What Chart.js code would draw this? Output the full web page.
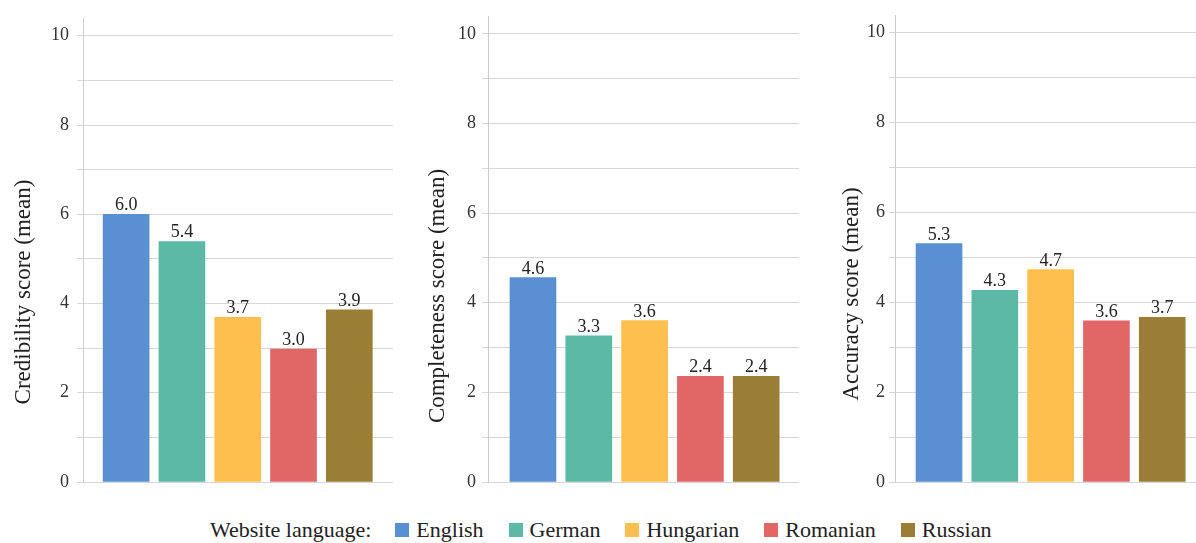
<!DOCTYPE html>
<html>
<head>
<meta charset="utf-8">
<script src="https://cdn.jsdelivr.net/npm/chart.js@4.4.1/dist/chart.umd.min.js"></script>
<style>
html, body { margin:0; padding:0; background:#fff; }
body { width:1196px; height:543px; overflow:hidden; position:relative; font-family:"Liberation Serif", serif; }
canvas { position:absolute; top:0; }
.ytitle { position:absolute; width:400px; height:26px; line-height:26px; text-align:center; font-size:23px; color:#222; transform:rotate(-90deg); white-space:nowrap; font-family:"Liberation Serif", serif; }
#legend { position:absolute; left:210px; top:517px; display:flex; align-items:center; font-size:22px; line-height:25px; color:#222; white-space:nowrap; font-family:"Liberation Serif", serif; }
#legend .lab { margin-right:24px; }
#legend .sw { width:14px; height:14px; margin-right:7px; }
#legend .it { margin-right:25px; }
</style>
</head>
<body>
<div id="legend" style="font-family:'Liberation Serif', serif"></div>
<script>
// ---- data ----
const categories = ['English', 'German', 'Hungarian', 'Romanian', 'Russian'];
const credibility = [6.0, 5.39, 3.69, 2.98, 3.86];
const completeness = [4.56, 3.26, 3.60, 2.36, 2.36];
const accuracy = [5.30, 4.26, 4.72, 3.58, 3.66];
const yTickLabels = [0, 2, 4, 6, 8, 10];
const axisTitles = ['Credibility score (mean)', 'Completeness score (mean)', 'Accuracy score (mean)'];
const legendTitle = 'Website language:';
const colors = ['#5990d2', '#5cb9a5', '#ffbf4f', '#e16767', '#9b7e35'];

const seriesList = [credibility, completeness, accuracy];

// ---- layout of panels ----
const panels = [
  { left: 0,   width: 393, yWidth: 83, pad: 8, xMin: -0.773, xMax: 4.783, tx: 22.5,  ty: 291.5 },
  { left: 400, width: 399, yWidth: 88, pad: 6, xMin: -0.806, xMax: 4.767, tx: 436.7, ty: 296 },
  { left: 800, width: 396, yWidth: 95, pad: 4, xMin: -0.789, xMax: 4.605, tx: 850.8, ty: 293.5 }
];

const FONT = 'Liberation Serif';
Chart.defaults.font.family = FONT;

const valueLabels = {
  id: 'valueLabels',
  afterDatasetsDraw(chart) {
    const ctx = chart.ctx;
    const meta = chart.getDatasetMeta(0);
    const data = chart.data.datasets[0].data;
    ctx.save();
    ctx.font = '18px "Liberation Serif"';
    ctx.fillStyle = '#222';
    ctx.textAlign = 'center';
    ctx.textBaseline = 'alphabetic';
    meta.data.forEach((bar, i) => {
      ctx.fillText(data[i].y.toFixed(1), bar.x, bar.y - 4);
    });
    ctx.restore();
  }
};

panels.forEach((p, k) => {
  const cv = document.createElement('canvas');
  cv.width = p.width; cv.height = 543;
  cv.style.left = p.left + 'px';
  cv.style.width = p.width + 'px'; cv.style.height = '543px';
  document.body.appendChild(cv);

  const t = document.createElement('div');
  t.className = 'ytitle';
  t.style.fontFamily = '"Liberation Serif", serif';
  t.textContent = axisTitles[k];
  t.style.left = (p.tx - 200) + 'px';
  t.style.top = (p.ty - 13) + 'px';
  document.body.appendChild(t);

  const values = seriesList[k];
  new Chart(cv, {
    type: 'bar',
    data: {
      datasets: [{
        data: values.map((v, i) => ({ x: i, y: v })),
        backgroundColor: colors,
        borderWidth: 0,
        barThickness: 46
      }]
    },
    plugins: [valueLabels],
    options: {
      responsive: false,
      animation: false,
      devicePixelRatio: 1,
      layout: { padding: { top: 15, bottom: 61, left: 0, right: 0 } },
      plugins: { legend: { display: false }, tooltip: { enabled: false } },
      scales: {
        x: { type: 'linear', min: p.xMin, max: p.xMax, offset: false, display: false },
        y: {
          min: 0, max: 10.38,
          grid: { color: '#d6d6d6', lineWidth: 1, tickLength: 6, drawTicks: true },
          border: { display: true, color: '#cccccc', width: 1 },
          ticks: {
            stepSize: 1, includeBounds: false, autoSkip: false, padding: p.pad,
            color: '#333', font: { family: FONT, size: 18 },
            callback: v => yTickLabels.includes(v) ? String(v) : ''
          },
          afterFit: s => { s.width = p.yWidth; }
        }
      }
    }
  });
});

// ---- legend ----
const lg = document.getElementById('legend');
const lab = document.createElement('span');
lab.className = 'lab'; lab.textContent = legendTitle;
lg.appendChild(lab);
categories.forEach((c, i) => {
  const sw = document.createElement('span');
  sw.className = 'sw'; sw.style.background = colors[i];
  lg.appendChild(sw);
  const tx = document.createElement('span');
  tx.className = 'it'; tx.textContent = c;
  lg.appendChild(tx);
});
</script>
</body>
</html>
